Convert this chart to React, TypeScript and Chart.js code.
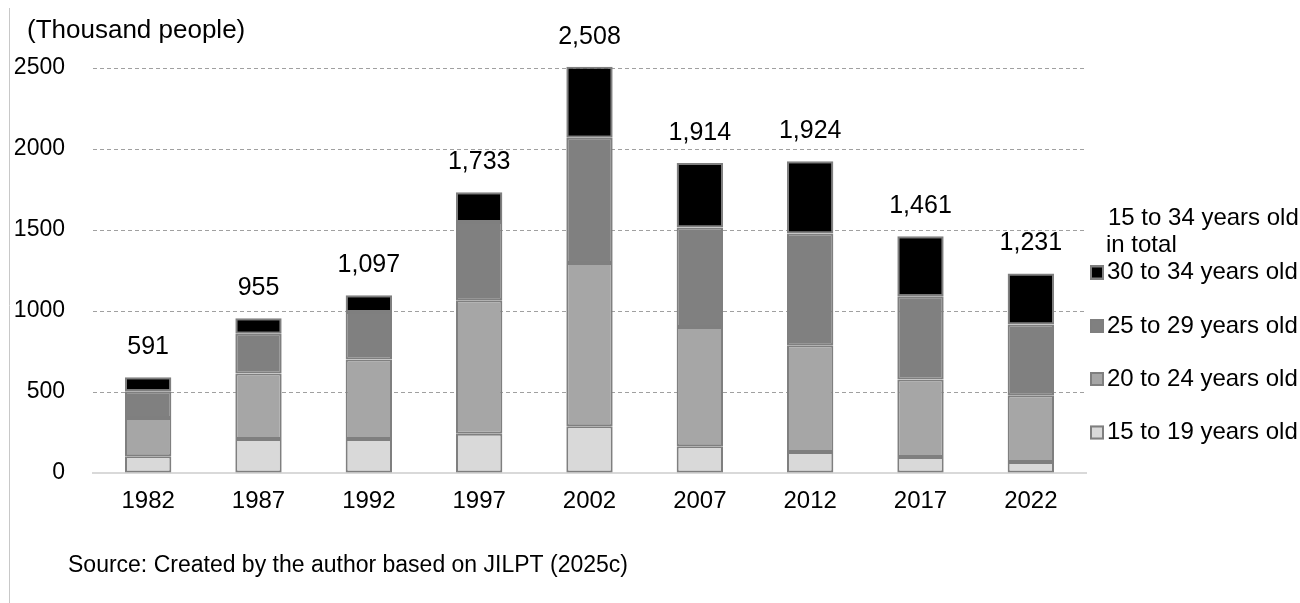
import React, { useEffect, useRef } from "react";
import { Chart, registerables } from "chart.js";

Chart.register(...registerables);

const years = ["1982", "1987", "1992", "1997", "2002", "2007", "2012", "2017", "2022"];
const age15to19 = [103, 210, 210, 243, 288, 165, 130, 99, 68];
const age20to24 = [237, 404, 490, 823, 1008, 736, 658, 478, 412];
const age25to29 = [164, 246, 294, 483, 774, 614, 690, 514, 436];
const age30to34 = [87, 95, 103, 184, 438, 399, 446, 370, 315];
const totals = [591, 955, 1097, 1733, 2508, 1914, 1924, 1461, 1231];
const yTickValues = [0, 500, 1000, 1500, 2000, 2500];

const seriesLabels = ["15 to 19 years old", "20 to 24 years old", "25 to 29 years old", "30 to 34 years old"];
const seriesColors = ["#d9d9d9", "#a6a6a6", "#808080", "#000000"];
const totalLabelLines = ["15 to 34 years old", "in total"];
const unitLabel = "(Thousand people)";
const sourceText = "Source: Created by the author based on JILPT (2025c)";

const FONT = "'Liberation Sans', Arial, sans-serif";
const BORDER = "#7f7f7f";

const overlayPlugin = {
  id: "overlay",
  afterDatasetsDraw(chart: any) {
    const ctx = chart.ctx;
    ctx.save();
    const lastMeta = chart.getDatasetMeta(3);
    ctx.fillStyle = "#000";
    ctx.font = `25px ${FONT}`;
    ctx.textAlign = "center";
    ctx.textBaseline = "middle";
    lastMeta.data.forEach((el: any, i: number) => {
      ctx.fillText(totals[i].toLocaleString("en-US"), el.x, el.y - 30);
    });
    ctx.restore();
  },
  afterDraw(chart: any) {
    const ctx = chart.ctx;
    ctx.save();
    ctx.strokeStyle = "#c8c8c8";
    ctx.lineWidth = 1;
    ctx.beginPath();
    ctx.moveTo(9.5, 8);
    ctx.lineTo(9.5, 603);
    ctx.stroke();

    ctx.fillStyle = "#000";
    ctx.textBaseline = "middle";
    ctx.textAlign = "left";
    ctx.font = `26px ${FONT}`;
    ctx.fillText(unitLabel, 27, 31);

    ctx.font = `23px ${FONT}`;
    ctx.fillText(sourceText, 68, 566);

    ctx.font = `24px ${FONT}`;
    ctx.fillText(totalLabelLines[0], 1108, 218);
    ctx.fillText(totalLabelLines[1], 1106, 245);
    const legendYs = [432.5, 379, 326, 272.5];
    for (let i = 3; i >= 0; i--) {
      const y = legendYs[i];
      ctx.fillStyle = seriesColors[i];
      ctx.fillRect(1090, y - 7, 14, 14);
      ctx.strokeStyle = BORDER;
      ctx.lineWidth = 2;
      ctx.strokeRect(1091, y - 6, 12, 12);
      ctx.fillStyle = "#000";
      ctx.fillText(seriesLabels[i], 1107, y);
    }
    ctx.restore();
  },
};

export default function App() {
  const canvasRef = useRef<HTMLCanvasElement | null>(null);

  useEffect(() => {
    const canvas = canvasRef.current;
    if (!canvas) return;
    const datasets = [age15to19, age20to24, age25to29, age30to34].map((data, i) => ({
      label: seriesLabels[i],
      data,
      backgroundColor: seriesColors[i],
      borderColor: BORDER,
      borderWidth: 2,
      borderSkipped: false as any,
      barPercentage: 0.42,
      categoryPercentage: 1,
      clip: false as any,
    }));
    const chart = new Chart(canvas, {
      type: "bar",
      data: { labels: years, datasets },
      options: {
        responsive: false,
        animation: false,
        devicePixelRatio: 1,
        layout: { padding: { top: 68, bottom: 80, left: 0, right: 214 } },
        plugins: {
          legend: { display: false },
          tooltip: { enabled: false },
          title: { display: false },
        },
        scales: {
          x: {
            stacked: true,
            grid: { display: false, drawTicks: false },
            border: { display: true, color: "#d9d9d9", width: 2 },
            ticks: { color: "#000", font: { family: FONT, size: 24 }, padding: 14, maxRotation: 0 },
            afterFit: (s: any) => {
              s.height = 50;
            },
          },
          y: {
            stacked: true,
            min: 0,
            max: 2500,
            afterBuildTicks: (s: any) => {
              s.ticks = yTickValues.map((v) => ({ value: v }));
            },
            grid: {
              drawTicks: false,
              color: (c: any) => (c.tick && c.tick.value === 0 ? "rgba(0,0,0,0)" : "#a0a0a0"),
              lineWidth: 1,
            },
            border: { display: false, dash: [4, 3] },
            ticks: {
              color: "#000",
              font: { family: FONT, size: 23 },
              padding: 28,
              callback: (v: any) => String(v),
            },
            afterFit: (s: any) => {
              s.width = 93;
            },
          },
        },
      },
      plugins: [overlayPlugin],
    });
    return () => chart.destroy();
  }, []);

  return (
    <div style={{ position: "absolute", left: 0, top: 0, width: 1300, height: 603, background: "#fff" }}>
      <canvas ref={canvasRef} width={1300} height={603} style={{ width: 1300, height: 603, display: "block" }} />
    </div>
  );
}
